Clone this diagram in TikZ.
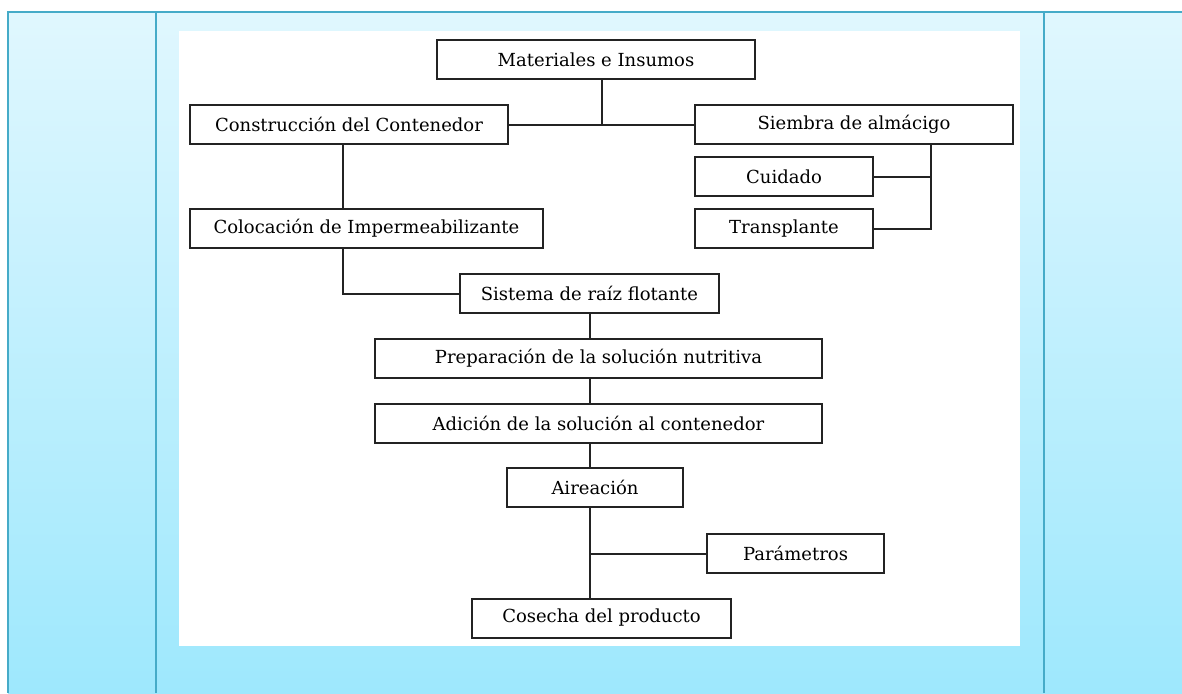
\documentclass[tikz,border=0pt]{standalone}
\usepackage{fontspec}
\setmainfont{DejaVu Serif}
\usetikzlibrary{positioning, calc}
\definecolor{framebg}{RGB}{224,247,254}
\definecolor{framebgdark}{RGB}{158,232,253}
\definecolor{frameline}{RGB}{69,171,200}
\definecolor{boxline}{RGB}{35,35,35}

\begin{document}
\begin{tikzpicture}[x=1pt, y=-1pt,
  stepbox/.style={draw=boxline, line width=2pt, minimum height=39pt, inner sep=0pt,
    fill=white, font=\fontsize{18}{21}\selectfont},
  link/.style={draw=boxline, line width=2pt}
]
  \useasboundingbox (0,0) rectangle (1182,693);
  % panel background and frame
  \shade[top color=framebg, bottom color=framebgdark] (8,12) rectangle (1182,693);
  \draw[frameline, line width=2.6pt] (8,693) -- (8,12) -- (1182,12);
  \draw[frameline, line width=2.6pt] (156,12) -- (156,693);
  \draw[frameline, line width=2.6pt] (1044,12) -- (1044,693);
  \fill[white] (179,31) rectangle (1020,646);

  % boxes
  \node[stepbox, minimum width=318pt] (mat) at (596,59.5) {Materiales e Insumos};
  \node[stepbox, minimum width=318pt] (const) at (349,124.5) {Construcción del Contenedor};
  \node[stepbox, minimum width=318pt] (siem) at (854,124.5) {Siembra de almácigo};
  \node[stepbox, minimum width=178pt] (cuid) at (784,176.5) {Cuidado};
  \node[stepbox, minimum width=178pt] (trans) at (784,228.5) {Transplante};
  \node[stepbox, minimum width=353pt] (coloc) at (366.5,228.5) {Colocación de Impermeabilizante};
  \node[stepbox, minimum width=259pt] (sist) at (589.5,293.5) {Sistema de raíz flotante};
  \node[stepbox, minimum width=447pt] (prep) at (598.5,358) {Preparación de la solución nutritiva};
  \node[stepbox, minimum width=447pt] (adic) at (598.5,423) {Adición de la solución al contenedor};
  \node[stepbox, minimum width=176pt] (aire) at (595,487.5) {Aireación};
  \node[stepbox, minimum width=177pt] (param) at (795.5,553.5) {Parámetros};
  \node[stepbox, minimum width=259pt] (cos) at (601.5,618) {Cosecha del producto};

  % junctions
  \coordinate (jmat) at (602,124.5);
  \coordinate (jsiem) at (931,228.5);
  \coordinate (jcol) at (343,293.5);
  \coordinate (jpar) at (589.5,553.5);

  % connectors
  \draw[link] (mat.south -| jmat) -- (jmat);
  \draw[link] (const.east) -- (siem.west);
  \draw[link] (siem.south -| jsiem) -- (jsiem) -- (trans.east);
  \draw[link] (cuid.east) -- (cuid.east -| jsiem);
  \draw[link] (const.south -| jcol) -- (coloc.north -| jcol);
  \draw[link] (coloc.south -| jcol) -- (jcol) -- (sist.west);
  \draw[link] (sist.south) -- (sist.south |- prep.north);
  \draw[link] (prep.south -| sist.south) -- (adic.north -| sist.south);
  \draw[link] (adic.south -| sist.south) -- (aire.north -| sist.south);
  \draw[link] (aire.south -| jpar) -- (cos.north -| jpar);
  \draw[link] (jpar) -- (param.west);
\end{tikzpicture}
\end{document}
